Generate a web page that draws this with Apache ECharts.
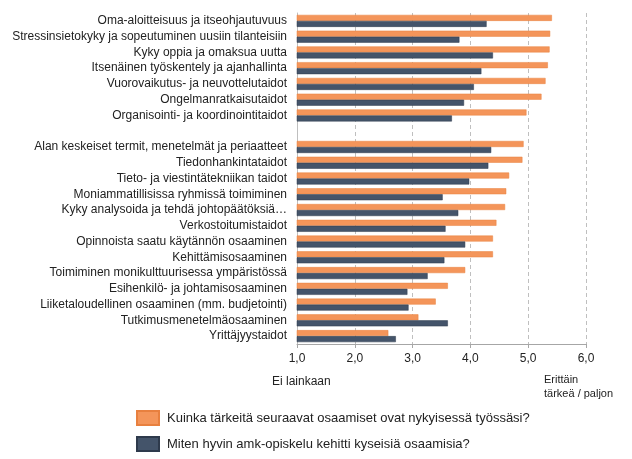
<!DOCTYPE html>
<html><head><meta charset="utf-8">
<script src="https://cdn.jsdelivr.net/npm/echarts@6/dist/echarts.min.js"></script>
<style>html,body{margin:0;padding:0;background:#fff}#c{width:632px;height:459px}</style>
</head><body><div id="c"></div>
<script>
const categories = [
  "Oma-aloitteisuus ja itseohjautuvuus",
  "Stressinsietokyky ja sopeutuminen uusiin tilanteisiin",
  "Kyky oppia ja omaksua uutta",
  "Itsenäinen työskentely ja ajanhallinta",
  "Vuorovaikutus- ja neuvottelutaidot",
  "Ongelmanratkaisutaidot",
  "Organisointi- ja koordinointitaidot",
  "",
  "Alan keskeiset termit, menetelmät ja periaatteet",
  "Tiedonhankintataidot",
  "Tieto- ja viestintätekniikan taidot",
  "Moniammatillisissa ryhmissä toimiminen",
  "Kyky analysoida ja tehdä johtopäätöksiä…",
  "Verkostoitumistaidot",
  "Opinnoista saatu käytännön osaaminen",
  "Kehittämisosaaminen",
  "Toimiminen monikulttuurisessa ympäristössä",
  "Esihenkilö- ja johtamisosaaminen",
  "Liiketaloudellinen osaaminen (mm. budjetointi)",
  "Tutkimusmenetelmäosaaminen",
  "Yrittäjyystaidot"
];
const importance = [5.41, 5.38, 5.37, 5.34, 5.30, 5.23, 4.97, null, 4.92, 4.90, 4.67, 4.62, 4.60, 4.45, 4.39, 4.39, 3.91, 3.61, 3.40, 3.10, 2.58];
const developed  = [4.28, 3.81, 4.39, 4.19, 4.06, 3.89, 3.68, null, 4.36, 4.31, 3.98, 3.52, 3.79, 3.57, 3.91, 3.55, 3.26, 2.91, 2.93, 3.61, 2.71];
const seriesNames = ["Kuinka tärkeitä seuraavat osaamiset ovat nykyisessä työssäsi?", "Miten hyvin amk-opiskelu kehitti kyseisiä osaamisia?"];
const xTicks = {min: 1, max: 6, interval: 1};

const chart = echarts.init(document.getElementById('c'));
const font = 'Liberation Sans, Arial, sans-serif';
const legendBase = {
  left: 131, itemWidth: 22, itemHeight: 14, icon: 'rect',
  textStyle: {fontSize: 13, color: '#222', padding: [0, 0, 0, 3]}
};
chart.setOption({
  animation: false,
  textStyle: {fontFamily: font},
  grid: {left: 297, right: 46, top: 13, bottom: 115},
  xAxis: {
    type: 'value', min: xTicks.min, max: xTicks.max, interval: xTicks.interval,
    axisLine: {show: true, lineStyle: {color: '#a6a6a6'}},
    axisTick: {show: true, length: 4, lineStyle: {color: '#a6a6a6'}},
    axisLabel: {color: '#222', fontSize: 12, margin: 9, formatter: v => v.toFixed(1).replace('.', ',')},
    splitLine: {show: true, lineStyle: {color: '#bfbfbf', type: [4, 3]}}
  },
  yAxis: {
    type: 'category', data: categories, inverse: true,
    axisLine: {show: true, lineStyle: {color: '#bfbfbf'}},
    axisTick: {show: false},
    axisLabel: {color: '#222', fontSize: 12, margin: 10}
  },
  legend: [
    Object.assign({top: 405, data: [seriesNames[0]]}, legendBase),
    Object.assign({top: 431, data: [seriesNames[1]]}, legendBase)
  ],
  series: [
    {name: seriesNames[0], type: 'bar', data: importance, barWidth: 6, barGap: '0%',
     itemStyle: {color: '#F4955A', borderColor: '#E8803F', borderWidth: 0.5}},
    {name: seriesNames[1], type: 'bar', data: developed, barWidth: 6, barGap: '0%',
     itemStyle: {color: '#44546A', borderColor: '#2E3A4C', borderWidth: 0.5}}
  ],
  graphic: [
    {type: 'text', left: 272, top: 376, style: {text: 'Ei lainkaan', font: '12px ' + font, fill: '#222'}},
    {type: 'text', left: 544, top: 373, style: {text: 'Erittäin\ntärkeä / paljon', font: '11px ' + font, fill: '#222', lineHeight: 14}}
  ]
});
</script></body></html>
